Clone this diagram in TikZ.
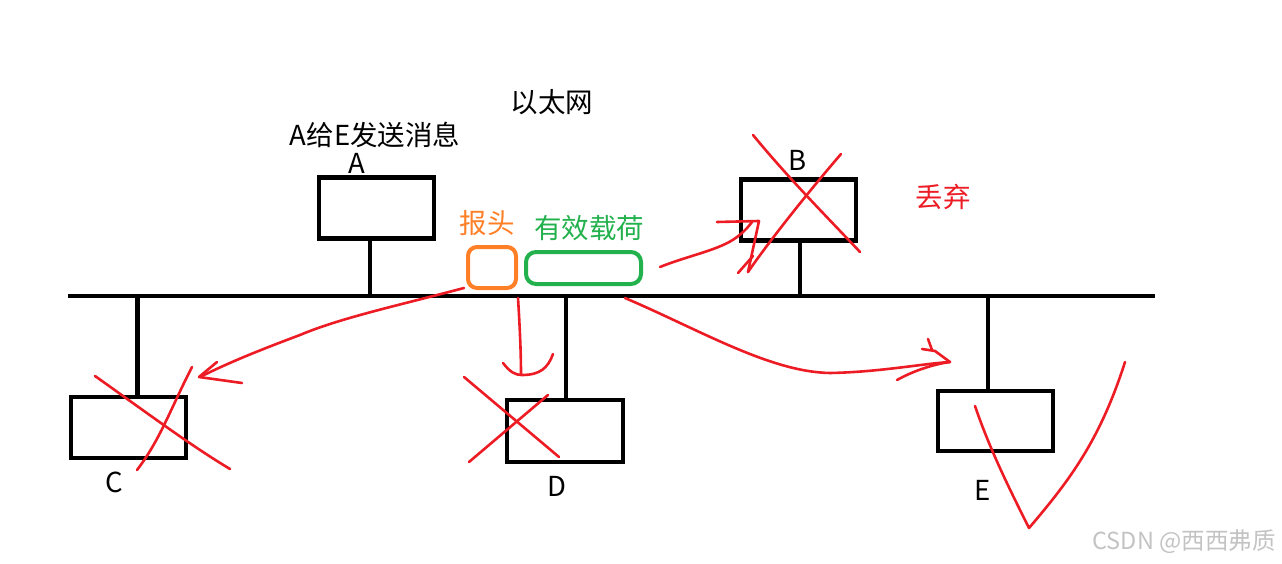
\documentclass[tikz,border=0pt]{standalone}
\usepackage{fontspec}
\setmainfont{Noto Sans CJK SC}
\definecolor{penred}{RGB}{237,28,36}
\definecolor{penorange}{RGB}{255,127,39}
\definecolor{pengreen}{RGB}{34,177,76}
\definecolor{wmgray}{RGB}{195,195,195}
\begin{document}
\begin{tikzpicture}[x=1pt,y=-1pt,
  hostbox/.style={draw=black,line width=4.5pt,minimum width=115pt,minimum height=61pt,inner sep=0pt},
  wire/.style={draw=black,line width=4.5pt},
  pen/.style={draw=penred,line width=2.6pt,line cap=round,line join=round},
  lbl/.style={font=\fontsize{27.5}{32}\selectfont,inner sep=0pt}]
\useasboundingbox (0,0) rectangle (1282,564);
% bus
\coordinate (busL) at (68,296);
\coordinate (busR) at (1155,296);
\draw[wire] (busL) -- (busR);
% hosts
\node[hostbox] (A) at (376.5,208) {};
\node[hostbox] (B) at (798.5,210) {};
\node[hostbox] (C) at (128.5,427.5) {};
\node[hostbox,minimum width=116pt,minimum height=62pt] (D) at (565,431) {};
\node[hostbox,minimum height=60pt] (E) at (995.5,421) {};
\draw[wire] ([xshift=-6.5pt]A.south) -- ([xshift=-6.5pt]A.south |- busL);
\draw[wire] ([xshift=1.5pt]B.south) -- ([xshift=1.5pt]B.south |- busL);
\draw[wire] ([xshift=9pt]C.north) -- ([xshift=9pt]C.north |- busL);
\draw[wire] ([xshift=1pt]D.north) -- ([xshift=1pt]D.north |- busL);
\draw[wire] ([xshift=-7.5pt]E.north) -- ([xshift=-7.5pt]E.north |- busL);
% frame parts
\draw[draw=penorange,line width=4pt,rounded corners=9pt] (468,247) rectangle (516,288);
\draw[draw=pengreen,line width=4pt,rounded corners=10pt] (526,252) rectangle (641,284);
% texts
\node[lbl] (title) at (552,102) {以太网};
\node[lbl] (msg) at (375,134.5) {A给E发送消息};
\node[lbl] (la) at (357,163.5) {A};
\node[lbl] (lb) at (798,160) {B};
\node[lbl] (lc) at (114,482) {C};
\node[lbl] (ld) at (557,486) {D};
\node[lbl] (le) at (983,490) {E};
\node[lbl,text=penorange] (hdr) at (487,223) {报头};
\node[lbl,text=pengreen] (pay) at (589,228) {有效载荷};
\node[lbl,text=penred] (drop) at (943,197) {丢弃};
\node[inner sep=0pt,text=wmgray,font=\fontsize{23.5}{28}\selectfont] (wm) at (1184,542) {CSDN @西西弗质};
% red pen: arrow to C
\draw[pen] (464,288) .. controls (400,305) and (340,318) .. (300,335)
           .. controls (260,350) and (230,362) .. (200,377);
\draw[pen] (217,362) -- (199,377) -- (242,383);
\draw[pen] (95,376) .. controls (150,415) and (190,445) .. (230,469);
\draw[pen] (192,367) .. controls (170,410) and (160,440) .. (137,470);
% arrow to D
\draw[pen] (518,298) .. controls (520,330) and (521,355) .. (521,375);
\draw[pen] (503,363) .. controls (510,372) and (515,375) .. (522,375)
           .. controls (540,375) and (548,368) .. (553,354);
\draw[pen] (464,377) -- (559,457);
\draw[pen] (548,395) -- (469,462);
% arrow to B
\draw[pen] (660,267) .. controls (690,255) and (720,250) .. (737,237)
           .. controls (745,231) and (749,226) .. (752,222);
\draw[pen] (717,222) -- (759,221) -- (748,272);
\draw[pen] (738,273) -- (753,256);
\draw[pen] (753,135) .. controls (790,180) and (830,220) .. (860,252);
\draw[pen] (841,154) .. controls (810,190) and (770,240) .. (748,272);
% arrow to E
\draw[pen] (625,298) .. controls (700,330) and (770,372) .. (830,373)
           .. controls (880,372) and (920,364) .. (950,362);
\draw[pen] (897,380) .. controls (915,370) and (935,364) .. (950,362);
\draw[pen] (922,349) -- (935,351) -- (950,362);
\draw[pen] (928,339) -- (932,350);
% check mark at E
\draw[pen] (975,406) .. controls (990,450) and (1010,490) .. (1029,528)
           .. controls (1070,480) and (1100,440) .. (1125,362);
\end{tikzpicture}
\end{document}
